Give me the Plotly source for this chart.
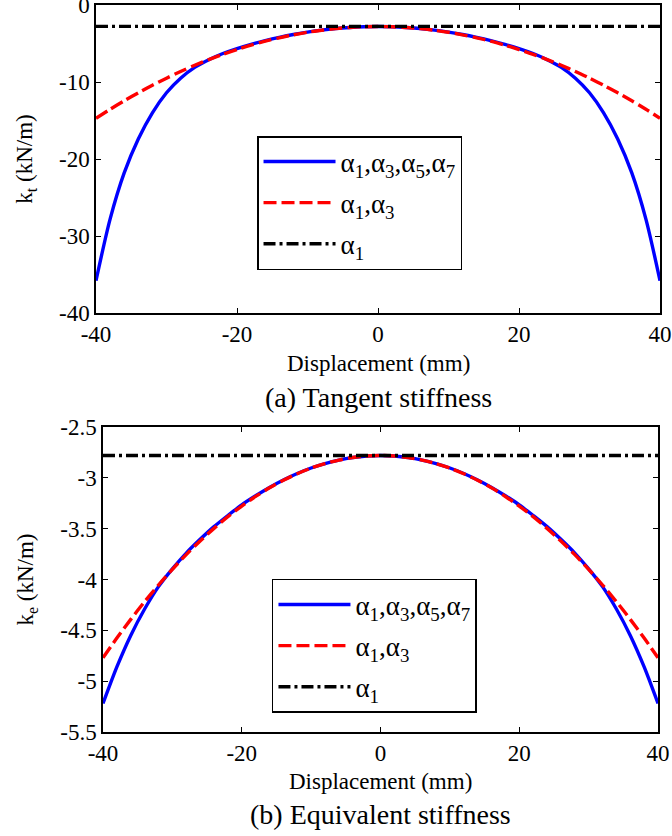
import plotly.graph_objects as go

# Displacement samples (mm)
disp = [-40, -38, -36, -34, -32, -30, -28, -26, -24, -22, -20, -18, -16, -14, -12, -10, -8, -6, -4, -2,
        0, 2, 4, 6, 8, 10, 12, 14, 16, 18, 20, 22, 24, 26, 28, 30, 32, 34, 36, 38, 40]

# Tangent stiffness k_t (kN/m), half-curves for |x| = 0, 2, ..., 40
kt_full_half = [-2.80, -2.83, -2.92, -3.06, -3.26, -3.52, -3.83, -4.20, -4.62, -5.10, -5.65,
                -6.30, -7.10, -8.10, -9.50, -11.40, -14.00, -17.40, -21.80, -27.80, -35.80]
kt_cubic_half = [-2.80, -2.83, -2.92, -3.07, -3.28, -3.54, -3.87, -4.26, -4.70, -5.21, -5.78,
                 -6.40, -7.09, -7.83, -8.63, -9.50, -10.42, -11.40, -12.44, -13.54, -14.70]

# Equivalent stiffness k_e (kN/m), half-curves for |x| = 0, 2, ..., 40
ke_full_half = [-2.780, -2.785, -2.800, -2.825, -2.860, -2.903, -2.957, -3.021, -3.094, -3.176, -3.265,
                -3.370, -3.480, -3.605, -3.740, -3.895, -4.070, -4.290, -4.550, -4.860, -5.220]
ke_cubic_half = [-2.780, -2.785, -2.800, -2.825, -2.860, -2.904, -2.959, -3.024, -3.098, -3.183, -3.278,
                 -3.382, -3.497, -3.621, -3.755, -3.900, -4.054, -4.218, -4.392, -4.576, -4.770]

alpha1 = -2.78  # linear stiffness coefficient (kN/m)

legend_names = ["α<sub>1</sub>,α<sub>3</sub>,α<sub>5</sub>,α<sub>7</sub>",
                "α<sub>1</sub>,α<sub>3</sub>",
                "α<sub>1</sub>"]

x_ticks = [-40, -20, 0, 20, 40]
x_tick_text = ["-40", "-20", "0", "20", "40"]
kt_ticks = [0, -10, -20, -30, -40]
kt_tick_text = ["0", "-10", "-20", "-30", "-40"]
ke_ticks = [-2.5, -3, -3.5, -4, -4.5, -5, -5.5]
ke_tick_text = ["-2.5", "-3", "-3.5", "-4", "-4.5", "-5", "-5.5"]


def mirror(half):
    return half[:0:-1] + half


FONT = "Liberation Serif, Times New Roman, DejaVu Serif, serif"
styles = [dict(color="#0000ff", width=3.4, dash="solid", shape="spline", smoothing=0.8),
          dict(color="#ff0000", width=3.4, dash="13px,5px", shape="spline", smoothing=0.8),
          dict(color="#000000", width=3.4, dash="12px,4px,3px,4px")]

fig = go.Figure()

series_top = [mirror(kt_full_half), mirror(kt_cubic_half), [alpha1] * len(disp)]
series_bot = [mirror(ke_full_half), mirror(ke_cubic_half), [alpha1] * len(disp)]

for i, (ys, name) in enumerate(zip(series_top, legend_names)):
    fig.add_trace(go.Scatter(x=disp, y=ys, mode="lines", name=name, line=styles[i],
                             xaxis="x", yaxis="y", legend="legend", legendgroup=f"a{i}"))
for i, (ys, name) in enumerate(zip(series_bot, legend_names)):
    fig.add_trace(go.Scatter(x=disp, y=ys, mode="lines", name=name, line=styles[i],
                             xaxis="x2", yaxis="y2", legend="legend2", legendgroup=f"b{i}"))

axis_common = dict(showline=True, linecolor="black", linewidth=1.5, mirror="ticks",
                   ticks="inside", ticklen=5, tickcolor="black", tickwidth=1,
                   showgrid=False, zeroline=False, automargin=False,
                   ticklabeloverflow="allow",
                   tickfont=dict(family=FONT, size=23, color="black"))

legend_common = dict(xanchor="left", yanchor="top",
                     bgcolor="white", bordercolor="black", borderwidth=1.5,
                     font=dict(family=FONT, size=27, color="black"),
                     tracegroupgap=3, itemwidth=72, traceorder="grouped")

fig.update_layout(
    width=672, height=836,
    margin=dict(l=96, r=12, t=5, b=104, autoexpand=False),
    paper_bgcolor="white", plot_bgcolor="white",
    font=dict(family=FONT, color="black"),
    xaxis=dict(domain=[0, 1], range=[-40, 40], tickvals=x_ticks, ticktext=x_tick_text,
               anchor="y", **axis_common),
    yaxis=dict(domain=[0.5763, 1.0], range=[-40, 0], tickvals=kt_ticks, ticktext=kt_tick_text,
               anchor="x",
               title=dict(text="k<sub>t</sub> (kN/m)", font=dict(family=FONT, size=23), standoff=20),
               **axis_common),
    xaxis2=dict(domain=[0.0124, 0.9965], range=[-40, 40], tickvals=x_ticks, ticktext=x_tick_text,
                anchor="y2", **axis_common),
    yaxis2=dict(domain=[0, 0.4195], range=[-5.5, -2.5], tickvals=ke_ticks, ticktext=ke_tick_text,
                anchor="x2",
                title=dict(text="k<sub>e</sub> (kN/m)", font=dict(family=FONT, size=23), standoff=20),
                **axis_common),
    legend=dict(x=0.2855, y=0.8198, **legend_common),
    legend2=dict(x=0.312, y=0.2105, **legend_common),
    showlegend=True,
)

# Axis labels and panel captions
ann = [
    dict(text="Displacement (mm)", x=0.5, xref="x domain", y=363, size=23),
    dict(text="(a) Tangent stiffness", x=0.5, xref="x domain", y=397, size=28),
    dict(text="Displacement (mm)", x=0.5, xref="x2 domain", y=781, size=23),
    dict(text="(b) Equivalent stiffness", x=0.5, xref="x2 domain", y=814, size=28),
]
for a in ann:
    fig.add_annotation(text=a["text"], xref=a["xref"], x=a["x"], yref="paper",
                       y=(836 - 104 - a["y"]) / 727, xanchor="center", yanchor="middle",
                       showarrow=False, font=dict(family=FONT, size=a["size"], color="black"))

fig.write_html("out.html")
